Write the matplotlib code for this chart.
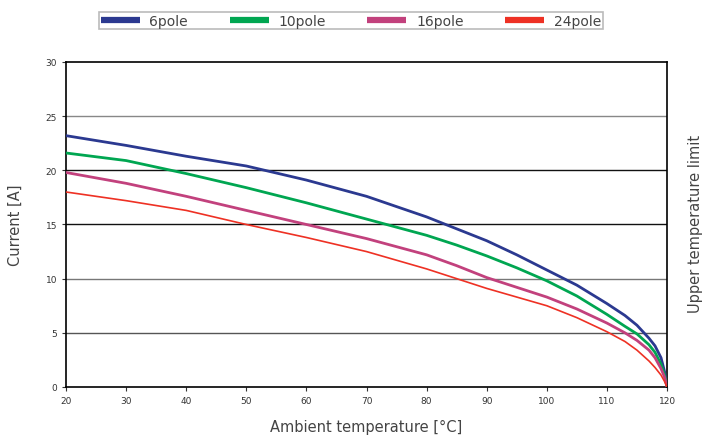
import matplotlib.pyplot as plt

temp = [20, 30, 40, 50, 60, 70, 80, 85, 90, 95, 100, 105, 110, 113, 115, 117, 118, 119, 119.6, 120]
i_6pole = [23.2, 22.3, 21.3, 20.4, 19.1, 17.6, 15.7, 14.6, 13.5, 12.2, 10.8, 9.4, 7.7, 6.6, 5.7, 4.5, 3.8, 2.7, 1.4, 0]
i_10pole = [21.6, 20.9, 19.7, 18.4, 17.0, 15.5, 14.0, 13.1, 12.1, 11.0, 9.8, 8.4, 6.7, 5.6, 4.9, 3.9, 3.2, 2.1, 1.1, 0]
i_16pole = [19.8, 18.8, 17.6, 16.3, 15.0, 13.7, 12.2, 11.2, 10.1, 9.2, 8.3, 7.2, 5.9, 5.0, 4.3, 3.4, 2.7, 1.7, 0.9, 0]
i_24pole = [18.0, 17.2, 16.3, 15.0, 13.8, 12.5, 10.9, 10.0, 9.1, 8.3, 7.5, 6.4, 5.1, 4.2, 3.4, 2.4, 1.8, 1.1, 0.5, 0]

series = [
    ("6pole", i_6pole, "#2b3990", 2.0),
    ("10pole", i_10pole, "#00a651", 2.0),
    ("16pole", i_16pole, "#c2417d", 2.0),
    ("24pole", i_24pole, "#ee3124", 1.2),
]

grid_vals = [5, 10, 15, 20, 25]
grid_cols = ["#555555", "#777777", "#111111", "#111111", "#888888"]

fig = plt.figure(figsize=(7.19, 4.39), dpi=100)
ax = fig.add_axes([0.0918, 0.1162, 0.8359, 0.7403])

for v, c in zip(grid_vals, grid_cols):
    ax.axhline(v, color=c, lw=1.0, zorder=1)

handles = []
for name, vals, col, lw in series:
    h, = ax.plot(temp, vals, color=col, lw=lw, label=name, zorder=3)
    handles.append(h)

ax.set_xlim(20, 120)
ax.set_ylim(0, 30)
ax.set_xticks(range(20, 121, 10))
ax.set_yticks(range(0, 31, 5))
ax.tick_params(labelsize=6.5, length=3, width=0.8, colors="#333333")
for s in ax.spines.values():
    s.set_color("black")
    s.set_linewidth(1.2)

ax.set_xlabel("Ambient temperature [°C]", fontsize=10.5, color="#444444", labelpad=10)
ax.set_ylabel("Current [A]", fontsize=10.5, color="#444444", labelpad=16)
fig.text(0.967, 0.49, "Upper temperature limit", rotation=90, fontsize=10.5,
         color="#444444", ha="center", va="center")

leg = fig.legend(handles=[plt.Line2D([], [], color=h.get_color(), lw=4.5,
                                     solid_capstyle="butt") for h in handles],
                 labels=[s[0] for s in series], ncol=4, loc="center",
                 bbox_to_anchor=(0.488, 0.951), fontsize=10, frameon=True,
                 fancybox=False, handlelength=2.8, columnspacing=3.0,
                 borderpad=0.12, handletextpad=0.7, labelcolor="#444444")
leg.get_frame().set_edgecolor("#aaaaaa")
leg.get_frame().set_linewidth(1.2)

fig.savefig("out.png", dpi=100)
